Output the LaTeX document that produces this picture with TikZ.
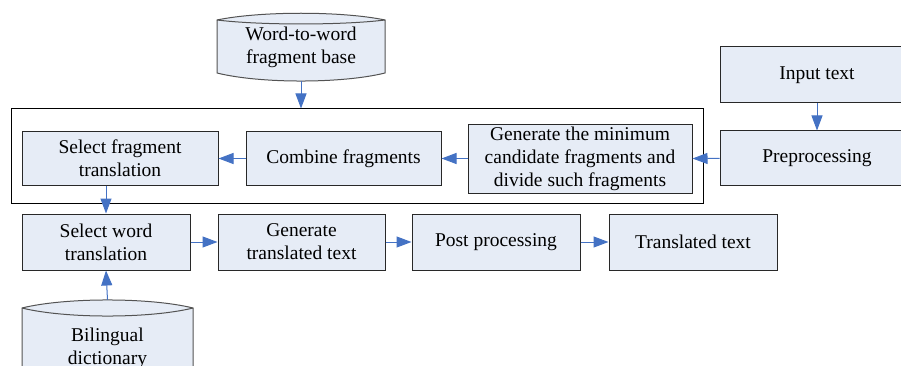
\documentclass[tikz,border=0pt]{standalone}
\usepackage{fontspec}
\setmainfont{Liberation Serif}
\usetikzlibrary{arrows.meta}
\definecolor{boxfill}{RGB}{230,236,246}
\definecolor{arrblue}{RGB}{68,114,196}
\definecolor{boxline}{RGB}{40,40,40}
\tikzset{
  procbox/.style={draw=boxline, fill=boxfill, line width=1pt, align=center, inner sep=0pt,
    font=\fontsize{19.5}{23}\selectfont},
  cyl/.style={draw=boxline!80, fill=boxfill, line width=1pt},
  cyltext/.style={align=center, inner sep=0pt, font=\fontsize{19.5}{23}\selectfont},
  arr/.style={draw=arrblue, line width=1pt, -{Triangle[length=15pt,width=11pt]}},
  frame/.style={draw=black, line width=1pt, inner sep=0pt}
}
\begin{document}
\begin{tikzpicture}[x=1pt,y=-1pt]
\useasboundingbox (0,0) rectangle (901,366);
% outer frame
\node[frame, minimum width=692pt, minimum height=94pt] (outer) at (357,156) {};
% cylinders
\path[cyl] (217,20) .. controls (260,11) and (342,11) .. (385,20) -- (385,73)
  .. controls (342,83.7) and (260,83.7) .. (217,73) -- cycle;
\draw[boxline!80, line width=1pt] (217,20) .. controls (260,25.3) and (342,25.3) .. (385,20);
\node[cyltext, minimum width=168pt, minimum height=68pt] (wfb) at (301,47) {Word-to-word\\fragment base};
\path[cyl] (22,308) .. controls (65,297.3) and (150,297.3) .. (193,308) -- (193,380) -- (22,380) -- cycle;
\draw[boxline!80, line width=1pt] (22,308) .. controls (65,318.7) and (150,318.7) .. (193,308);
\node[cyltext, minimum width=171pt, minimum height=70pt] (bil) at (107.5,335) {};
\node[cyltext] at (107.5,348) {Bilingual\\dictionary};
% top row
\node[procbox, minimum width=194pt, minimum height=56pt] (input) at (817,75) {Input text};
\node[procbox, minimum width=194pt, minimum height=54pt] (pre) at (817,158) {Preprocessing};
\node[procbox, minimum width=224pt, minimum height=68pt] (gen) at (580,159) {Generate the minimum\\candidate fragments and\\divide such fragments};
\node[procbox, minimum width=195pt, minimum height=53pt] (comb) at (343.5,158.5) {Combine fragments};
\node[procbox, minimum width=196pt, minimum height=53pt] (selfrag) at (120,158.5) {Select fragment\\translation};
% bottom row
\node[procbox, minimum width=168pt, minimum height=56pt] (selword) at (106,242) {Select word\\translation};
\node[procbox, minimum width=167pt, minimum height=56pt] (gentr) at (301.5,242) {Generate\\translated text};
\node[procbox, minimum width=168pt, minimum height=56pt] (post) at (496,242) {Post processing};
\node[procbox, minimum width=168pt, minimum height=56pt] (trans) at (693,242) {Translated text};
% arrows
\draw[arr] (wfb.south) -- (wfb.south |- outer.north);
\draw[arr] (input) -- (pre);
\draw[arr] (pre) -- (gen);
\draw[arr] (gen.west |- comb.east) -- (comb);
\draw[arr] (comb) -- (selfrag);
\draw[arr] (selword.north |- selfrag.south) -- (selword.north);
\draw[arr] (bil.north) -- (selword.south);
\draw[arr] (selword) -- (gentr);
\draw[arr] (gentr) -- (post);
\draw[arr] (post) -- (trans);
\end{tikzpicture}
\end{document}
